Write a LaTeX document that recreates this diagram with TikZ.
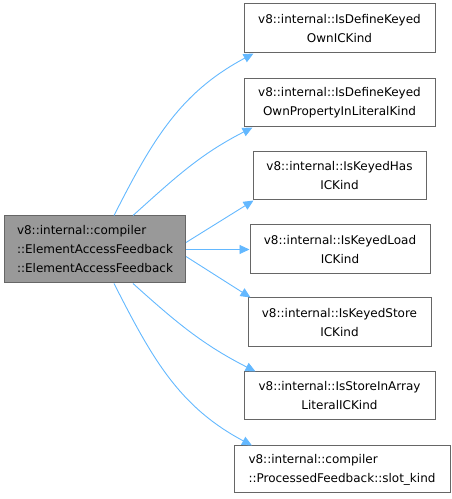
\documentclass[tikz,border=0pt]{standalone}
\usepackage{fontspec}
\setmainfont{DejaVu Sans}
\usetikzlibrary{arrows.meta}
\definecolor{edgeblue}{HTML}{63B8FF}
\definecolor{boxborder}{HTML}{666666}
\definecolor{mainfill}{HTML}{999999}
\begin{document}
\begin{tikzpicture}[x=1pt,y=1pt,
  box/.style={draw=boxborder, line width=1pt, fill=white, inner sep=0pt,
    font=\fontsize{12}{19}\selectfont, align=center},
  mainbox/.style={box, fill=mainfill, align=left},
  edge/.style={draw=edgeblue, line width=0.9pt, -{Triangle[length=10pt,width=9pt]}}]
\useasboundingbox (0,0) rectangle (452,499);
\node[mainbox, minimum width=181pt, minimum height=67pt] (main) at (95,249.5)
  {v8::internal::compiler\\::ElementAccessFeedback\\::ElementAccessFeedback};
\node[box, minimum width=191pt, minimum height=49pt] (b1) at (339.5,470.5)
  {v8::internal::IsDefineKeyed\\OwnICKind};
\node[box, minimum width=191pt, minimum height=48pt] (b2) at (339.5,396)
  {v8::internal::IsDefineKeyed\\OwnPropertyInLiteralKind};
\node[box, minimum width=173pt, minimum height=48pt] (b3) at (339.5,323)
  {v8::internal::IsKeyedHas\\ICKind};
\node[box, minimum width=180pt, minimum height=49pt] (b4) at (340,249.5)
  {v8::internal::IsKeyedLoad\\ICKind};
\node[box, minimum width=183pt, minimum height=49pt] (b5) at (339.5,176.5)
  {v8::internal::IsKeyedStore\\ICKind};
\node[box, minimum width=191pt, minimum height=48pt] (b6) at (339.5,103)
  {v8::internal::IsStoreInArray\\LiteralICKind};
\node[box, align=left, minimum width=216pt, minimum height=47pt] (b7) at (342,29.5)
  {v8::internal::compiler\\::ProcessedFeedback::slot\_kind};
\draw[edge] ([xshift=19pt]main.north) to[out=63,in=208] ([xshift=-86pt]b1.south);
\draw[edge] ([xshift=38pt]main.north) to[out=42,in=207] ([xshift=-87pt]b2.south);
\draw[edge] ([yshift=-27pt]main.north east) -- ([xshift=1pt]b3.south west);
\draw[edge] (main.east) -- (b4.west);
\draw[edge] ([yshift=27pt]main.south east) -- ([xshift=3pt]b5.north west);
\draw[edge] ([xshift=38pt]main.south) to[out=-42,in=153] ([xshift=-84pt]b6.north);
\draw[edge] ([xshift=19pt]main.south) to[out=-63,in=152] ([xshift=-90pt]b7.north);
\end{tikzpicture}
\end{document}
